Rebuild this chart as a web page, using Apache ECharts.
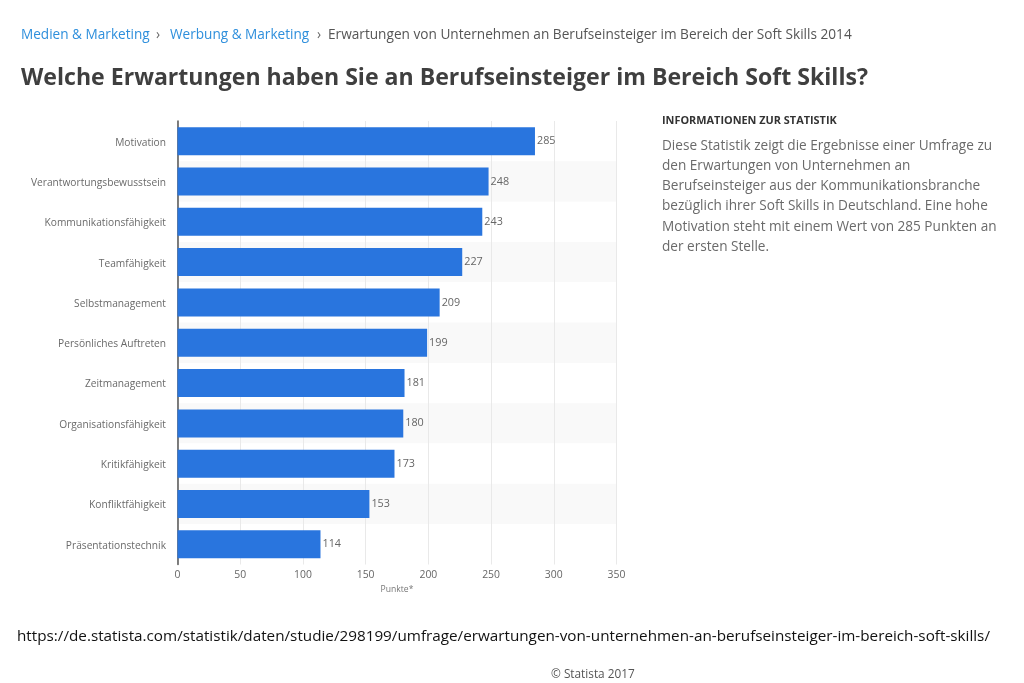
<!DOCTYPE html>
<html>
<head>
<meta charset="utf-8">
<title>Erwartungen an Berufseinsteiger</title>
<script src="https://cdn.jsdelivr.net/npm/echarts@6/dist/echarts.min.js"></script>
<style>
  html, body { margin: 0; padding: 0; background: #fff; }
  #chart { width: 1024px; height: 683px; }
</style>
</head>
<body>
<div id="chart"></div>
<script>
const categories = [
  'Motivation', 'Verantwortungsbewusstsein', 'Kommunikationsfähigkeit', 'Teamfähigkeit',
  'Selbstmanagement', 'Persönliches Auftreten', 'Zeitmanagement', 'Organisationsfähigkeit',
  'Kritikfähigkeit', 'Konfliktfähigkeit', 'Präsentationstechnik'
];
const punkte = [285, 248, 243, 227, 209, 199, 181, 180, 173, 153, 114];
const axisTitle = 'Punkte*';
const pageTitle = 'Welche Erwartungen haben Sie an Berufseinsteiger im Bereich Soft Skills?';
const crumbs = ['Medien & Marketing', '›', 'Werbung & Marketing', '›',
  'Erwartungen von Unternehmen an Berufseinsteiger im Bereich der Soft Skills 2014'];
const infoHead = 'INFORMATIONEN ZUR STATISTIK';
const infoLines = [
  'Diese Statistik zeigt die Ergebnisse einer Umfrage zu',
  'den Erwartungen von Unternehmen an',
  'Berufseinsteiger aus der Kommunikationsbranche',
  'bezüglich ihrer Soft Skills in Deutschland. Eine hohe',
  'Motivation steht mit einem Wert von 285 Punkten an',
  'der ersten Stelle.'
];
const sourceUrl = 'https://de.statista.com/statistik/daten/studie/298199/umfrage/erwartungen-von-unternehmen-an-berufseinsteiger-im-bereich-soft-skills/';
const copyright = '© Statista 2017';

const FONT = '"Open Sans", sans-serif';

function label(x, y, text, size, color, weight) {
  return {
    type: 'text', x: x, y: y, silent: true,
    style: {
      text: text, fontFamily: FONT, fontSize: size, fill: color,
      fontWeight: weight || 'normal', textVerticalAlign: 'middle'
    }
  };
}

const myChart = echarts.init(document.getElementById('chart'), null, { renderer: 'canvas' });

const texts = [
  label(21, 35.5, crumbs[0], 13.6, '#2e8fdc'),
  label(156, 35.5, crumbs[1], 13.6, '#666'),
  label(170, 35.5, crumbs[2], 13.6, '#2e8fdc'),
  label(317, 35.5, crumbs[3], 13.6, '#666'),
  label(328, 35.5, crumbs[4], 13.65, '#555'),
  label(21, 78, pageTitle, 23.1, '#3f3f3f', 'bold'),
  label(662, 120.5, infoHead, 10.9, '#333', 'bold'),
  label(17, 636.5, sourceUrl, 15.25, '#111'),
  label(551, 675, copyright, 11.8, '#555')
];
infoLines.forEach(function (line, i) {
  texts.push(label(662, 146 + i * 20.2, line, 13.6, '#6a6a6a'));
});

const option = {
  animation: false,
  backgroundColor: '#fff',
  textStyle: { fontFamily: FONT },
  grid: { left: 177.5, right: 407.5, top: 121, bottom: 118.5, containLabel: false },
  xAxis: {
    type: 'value', min: 0, max: 350, interval: 50,
    name: axisTitle, nameLocation: 'middle', nameGap: 21,
    nameTextStyle: { fontSize: 8.6, color: '#777', fontFamily: FONT },
    axisLine: { show: false },
    axisTick: { show: false },
    axisLabel: { color: '#666', fontSize: 10.4, margin: 6, fontFamily: FONT },
    splitLine: { show: true, lineStyle: { color: '#e9e9e9', width: 1 } }
  },
  yAxis: {
    type: 'category', inverse: true, data: categories,
    axisLine: { show: true, onZero: false, lineStyle: { color: '#555', width: 1.5 } },
    axisTick: { show: false },
    axisLabel: {
      color: '#6a6a6a', fontSize: 10.2, margin: 11.5, fontFamily: FONT,
      verticalAlign: 'top', lineHeight: 3 // labels sit a little below the band centre
    },
    splitArea: { show: true, areaStyle: { color: ['#ffffff', '#f9f9f9'] } }
  },
  series: [{
    type: 'bar', data: punkte, barWidth: 28,
    itemStyle: { color: '#2975de' },
    label: {
      show: true, position: 'right', distance: 2,
      color: '#666', fontSize: 10.8, fontFamily: FONT
    }
  }],
  graphic: texts
};
myChart.setOption(option);
</script>
</body>
</html>
